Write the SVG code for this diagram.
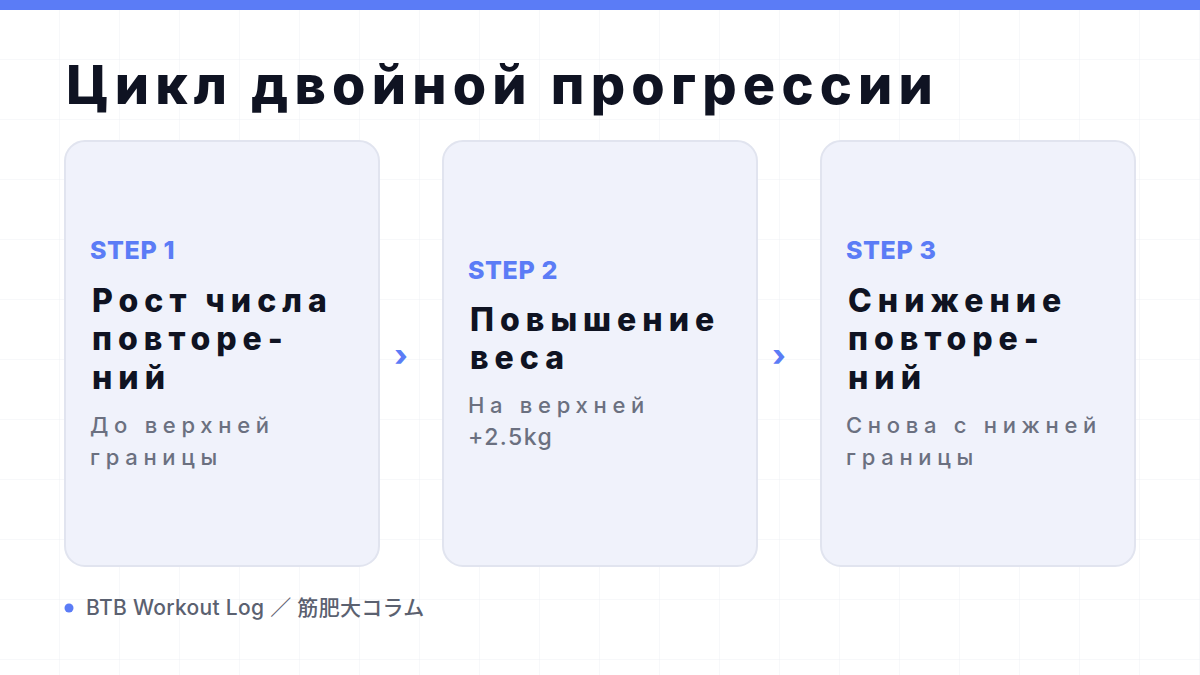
<svg xmlns="http://www.w3.org/2000/svg" width="1200" height="675" viewBox="0 0 1200 675">
  <defs>
    <pattern id="grid" width="60" height="60" patternUnits="userSpaceOnUse">
      <path d="M60 0V60M0 60H60" fill="none" stroke="#eef0f4" stroke-width="1"/>
    </pattern>
    <style>
      .title{font-family:Inter,"Liberation Sans",sans-serif;font-weight:800;font-size:54px;letter-spacing:6.2px;fill:#0f1322}
      .card{fill:#f0f2fb;stroke:#e1e4ef;stroke-width:2}
      .step{font-family:Inter,"Liberation Sans",sans-serif;font-weight:800;font-size:25px;letter-spacing:0.6px;fill:#5b7cf6}
      .head{font-family:Inter,"Liberation Sans",sans-serif;font-weight:800;font-size:32px;letter-spacing:6px;fill:#0f1322}
      .sub{font-family:Inter,"Liberation Sans",sans-serif;font-weight:500;font-size:22px;letter-spacing:5.7px;fill:#6b7080}
      .sub2{font-family:Inter,"Liberation Sans",sans-serif;font-weight:500;font-size:23px;letter-spacing:1.5px;fill:#6b7080}
      .chev{font-family:Inter,"Liberation Sans",sans-serif;font-weight:800;font-size:30px;fill:#5b7cf6;text-anchor:middle}
      .foot{font-family:Inter,"Noto Sans CJK JP",sans-serif;font-weight:500;font-size:21px;letter-spacing:0.3px;fill:#5b6170}
    </style>
  </defs>
  <rect width="1200" height="675" fill="#ffffff"/>
  <rect width="1200" height="675" fill="url(#grid)"/>
  <rect x="0" y="0" width="1200" height="10" fill="#5b7cf6"/>
  <text class="title" x="66" y="104">Цикл двойной прогрессии</text>

  <g id="step1">
    <rect class="card" x="65" y="141" width="314" height="425" rx="20"/>
    <text class="step" x="90" y="259">STEP 1</text>
    <text class="head" x="92" y="312">Рост числа</text>
    <text class="head" x="92" y="350">повторе-</text>
    <text class="head" x="92" y="389">ний</text>
    <text class="sub" x="90" y="433">До верхней</text>
    <text class="sub" x="90" y="465">границы</text>
  </g>

  <g id="step2">
    <rect class="card" x="443" y="141" width="314" height="425" rx="20"/>
    <text class="step" x="468" y="279">STEP 2</text>
    <text class="head" x="470" y="331">Повышение</text>
    <text class="head" x="470" y="369">веса</text>
    <text class="sub" x="468" y="413">На верхней</text>
    <text class="sub2" x="468" y="445">+2.5kg</text>
  </g>

  <g id="step3">
    <rect class="card" x="821" y="141" width="314" height="425" rx="20"/>
    <text class="step" x="846" y="259">STEP 3</text>
    <text class="head" x="848" y="312">Снижение</text>
    <text class="head" x="848" y="350">повторе-</text>
    <text class="head" x="848" y="389">ний</text>
    <text class="sub" x="846" y="433">Снова с нижней</text>
    <text class="sub" x="846" y="465">границы</text>
  </g>

  <g id="connectors">
    <text class="chev" x="401" y="366">›</text>
    <text class="chev" x="779" y="366">›</text>
  </g>

  <g id="footer">
    <circle cx="69" cy="608" r="4.5" fill="#5b7cf6"/>
    <text class="foot" x="86" y="615">BTB Workout Log ／ 筋肥大コラム</text>
  </g>
</svg>
